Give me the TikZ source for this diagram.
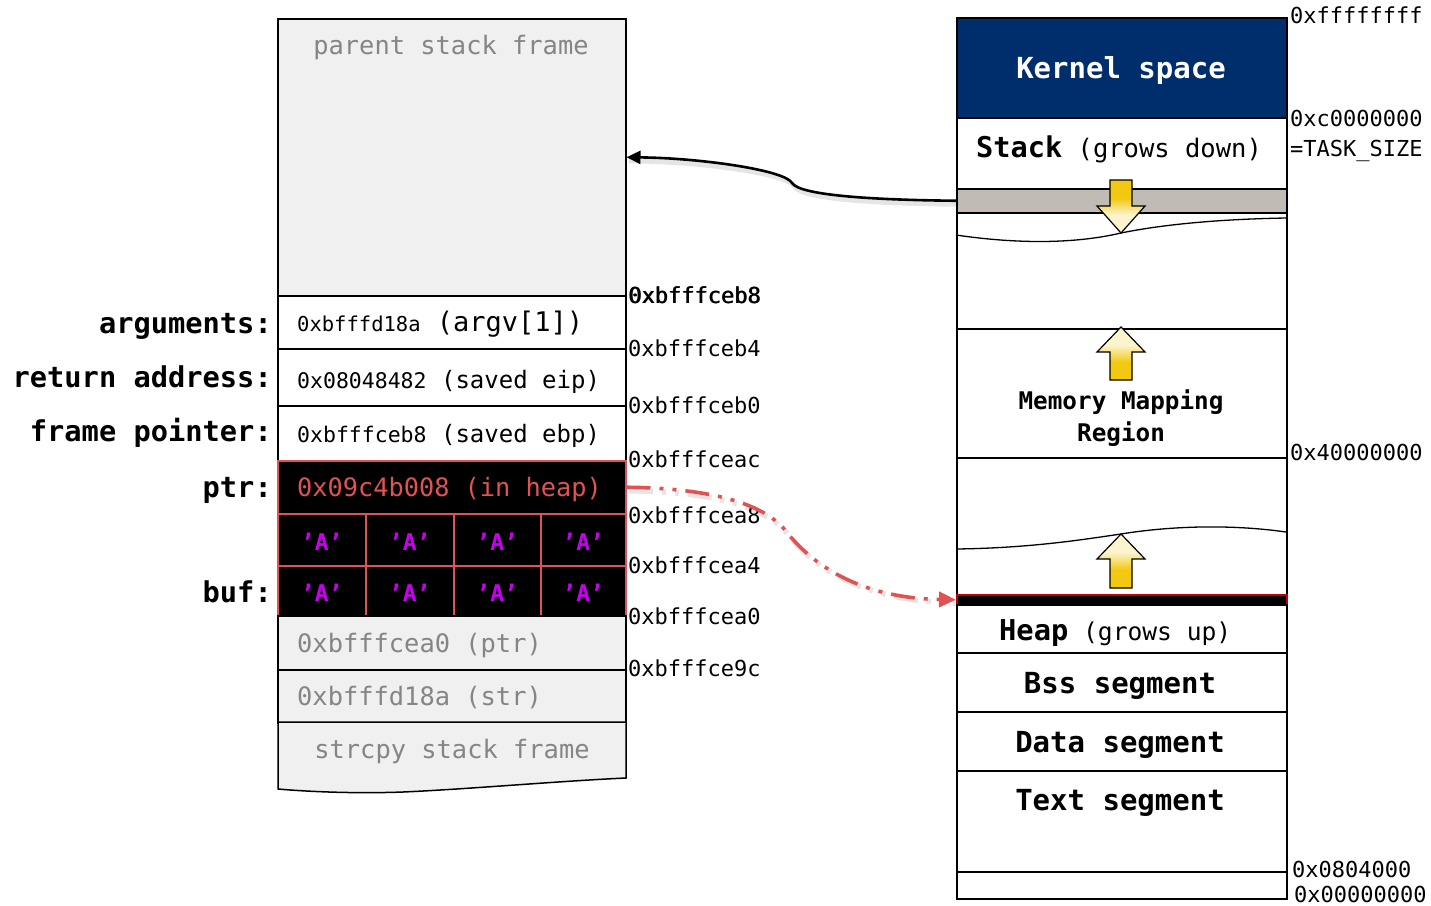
\documentclass[tikz,border=0pt]{standalone}
\usepackage{fontspec}
\setmonofont{DejaVu Sans Mono}
\usetikzlibrary{arrows.meta}
\definecolor{kernelblue}{HTML}{002D6B}
\definecolor{cellgray}{HTML}{F0F0F0}
\definecolor{graytxt}{HTML}{858585}
\definecolor{bandgray}{HTML}{C0BCB5}
\definecolor{ptrred}{HTML}{DF5353}
\definecolor{heapred}{HTML}{C00000}
\definecolor{amagenta}{HTML}{C800F0}
\definecolor{arrowyellow}{HTML}{F2C811}
\newcommand\fsz[1]{\fontsize{#1}{#1}\selectfont}
% yellow fill that fades out only near the arrow tip
\pgfdeclareverticalshading{tipdown}{100bp}{color(0bp)=(arrowyellow!20!white); color(42bp)=(arrowyellow!20!white); color(58bp)=(arrowyellow); color(100bp)=(arrowyellow)}
\pgfdeclareverticalshading{tipup}{100bp}{color(0bp)=(arrowyellow); color(42bp)=(arrowyellow); color(58bp)=(arrowyellow!20!white); color(100bp)=(arrowyellow!20!white)}
\begin{document}
\begin{tikzpicture}[x=1pt,y=-1pt,
  box/.style={draw=black, line width=1.5pt, inner sep=0pt, anchor=north west},
  sz/.style 2 args={minimum width=#1pt, minimum height=#2pt},
  lbl/.style={anchor=base east, inner sep=0pt, font=\ttfamily\bfseries\fsz{28.7}},
  addr/.style={anchor=base west, inner sep=0pt, font=\ttfamily\fsz{22}},
  celltxt/.style={anchor=base west, inner sep=0pt, font=\ttfamily},
  greytxt/.style={anchor=base, inner sep=0pt, text=graytxt, font=\ttfamily\fsz{25.4}},
  bufcell/.style={box, draw=ptrred, fill=black},
  atxt/.style={anchor=base, inner sep=0pt, text=amagenta, font=\ttfamily\bfseries\fsz{23}},
  segtxt/.style={anchor=base, inner sep=0pt, font=\ttfamily\bfseries\fsz{29}},
  uparrow/.style={draw=black, line width=1.2pt, shading=tipup},
  downarrow/.style={draw=black, line width=1.2pt, shading=tipdown},
  wave/.style={draw=black, line width=1.3pt}
]
\useasboundingbox (0,0) rectangle (1431,905);

% ---------------- stack frame of the current function ----------------
\node[box, sz={348}{277}, fill=cellgray] (parent) at (277,18) {};
\node[greytxt] (parentTxt) at (451,54) {parent stack frame};

\node[box, sz={348}{53}, fill=white] (args) at (277,295) {};
\node[box, sz={348}{57}, fill=white] (ret) at (277,348) {};
\node[box, sz={348}{55}, fill=white] (fp) at (277,405) {};
\node[box, sz={348}{53}, draw=ptrred, fill=black] (ptr) at (277,460) {};

% buf[8], two rows of four bytes
\node[bufcell, sz={88}{52}] (b11) at (277,513) {};
\node[bufcell, sz={88}{52}] (b12) at (365,513) {};
\node[bufcell, sz={87}{52}] (b13) at (453,513) {};
\node[bufcell, sz={85}{52}] (b14) at (540,513) {};
\node[bufcell, sz={88}{50}] (b21) at (277,565) {};
\node[bufcell, sz={88}{50}] (b22) at (365,565) {};
\node[bufcell, sz={87}{50}] (b23) at (453,565) {};
\node[bufcell, sz={85}{50}] (b24) at (540,565) {};

\node[box, sz={348}{54}, fill=cellgray] (ptrarg) at (277,615) {};
\node[box, sz={348}{53}, fill=cellgray] (strarg) at (277,669) {};

% callee frame with a torn lower edge
\draw[line width=1.5pt, fill=cellgray] (278,722) -- (626,722) -- (626,778)
  .. controls (560,781) and (470,789) .. (403,792)
  .. controls (350,794) and (300,791) .. (278,789) -- cycle;
\node[greytxt] (strcpyTxt) at (452,758) {strcpy stack frame};

% cell contents
\node[celltxt] (argsTxt) at (297,331) {{\fsz{20.5}0xbfffd18a}{\fsz{27}\ (argv[1])}};
\node[celltxt] (retTxt) at (297,388) {{\fsz{21.5}0x08048482}{\fsz{24}\ (saved eip)}};
\node[celltxt] (fpTxt) at (297,442) {{\fsz{21.5}0xbfffceb8}{\fsz{24}\ (saved ebp)}};
\node[celltxt, text=ptrred, font=\ttfamily\fsz{25.3}] (ptrTxt) at (297,496) {0x09c4b008 (in heap)};
\node[atxt] (a11) at (b11.center |- 0,550) {’A’};
\node[atxt] (a12) at (b12.center |- 0,550) {’A’};
\node[atxt] (a13) at (b13.center |- 0,550) {’A’};
\node[atxt] (a14) at (b14.center |- 0,550) {’A’};
\node[atxt] (a21) at (b21.center |- 0,601) {’A’};
\node[atxt] (a22) at (b22.center |- 0,601) {’A’};
\node[atxt] (a23) at (b23.center |- 0,601) {’A’};
\node[atxt] (a24) at (b24.center |- 0,601) {’A’};
\node[celltxt, text=graytxt, font=\ttfamily\fsz{25.4}] (ptrargTxt) at (297,652) {0xbfffcea0 (ptr)};
\node[celltxt, text=graytxt, font=\ttfamily\fsz{25.4}] (strargTxt) at (297,705) {0xbfffd18a (str)};

% row labels
\node[lbl] (argsLbl) at (272,333) {arguments:};
\node[lbl] (retLbl) at (272,387) {return address:};
\node[lbl] (fpLbl) at (272,441) {frame pointer:};
\node[lbl] (ptrLbl) at (272,497) {ptr:};
\node[lbl] (bufLbl) at (272,602) {buf:};

% stack addresses
\node[addr] (sa0) at (628,303) {0xbfffceb8};
\node[addr] (sa0b) at (628.8,303) {0xbfffceb8};
\node[addr] (sa1) at (628,356) {0xbfffceb4};
\node[addr] (sa2) at (628,413) {0xbfffceb0};
\node[addr] (sa3) at (628,467) {0xbfffceac};
\node[addr] (sa4) at (628,523) {0xbfffcea8};
\node[addr] (sa5) at (628,573) {0xbfffcea4};
\node[addr] (sa6) at (628,624) {0xbfffcea0};
\node[addr] (sa7) at (628,676) {0xbfffce9c};

% ---------------- process address space ----------------
\node[box, sz={330}{881}, fill=white] (space) at (956,17) {};
\node[box, sz={330}{100}, fill=kernelblue] (kernel) at (956,17) {};
\node[segtxt, text=white] (kernelTxt) at (1121,78) {Kernel space};
\node[box, sz={330}{71}, fill=white] (stack) at (956,117) {};
\node[celltxt] (stackTxt) at (976,157) {{\bfseries\fsz{28.6}Stack}{\fsz{25.5}\ (grows down)}};
\node[box, sz={330}{24}, fill=bandgray] (band) at (956,188) {};

\draw[wave] (956,235) .. controls (1010,243) and (1070,245) .. (1121,233)
  .. controls (1170,223) and (1230,219) .. (1286,218);

\node[box, sz={330}{129}] (mmap) at (956,328) {};
\node[anchor=base, inner sep=0pt, font=\ttfamily\bfseries\fsz{24.3}] (mmapTxt) at (1121,409) {Memory Mapping};
\node[anchor=base, inner sep=0pt, font=\ttfamily\bfseries\fsz{24.3}] (mmapTxt2) at (1121,441) {Region};

\draw[wave] (956,549) .. controls (1030,548) and (1080,540) .. (1121,534)
  .. controls (1170,526) and (1230,524) .. (1286,532);

\node[box, sz={330}{10}, draw=heapred, fill=black] (heapbar) at (956,594) {};
\node[box, sz={330}{48}] (heap) at (956,604) {};
\node[celltxt] (heapTxt) at (999,640) {{\bfseries\fsz{28.7}Heap}{\fsz{24.6}\ (grows up)}};
\node[box, sz={330}{59}] (bss) at (956,652) {};
\node[segtxt] (bssTxt) at (1120,693) {Bss segment};
\node[box, sz={330}{59}] (data) at (956,711) {};
\node[segtxt] (dataTxt) at (1120,752) {Data segment};
\node[box, sz={330}{101}] (text) at (956,770) {};
\node[segtxt] (textTxt) at (1120,810) {Text segment};
\node[box, sz={330}{27}] (low) at (956,871) {};

% growth arrows
\draw[downarrow] (1110,180) -- (1132,180) -- (1132,206) -- (1145,206) -- (1121,233)
  -- (1097,206) -- (1110,206) -- cycle;
\draw[uparrow] (1110,380) -- (1132,380) -- (1132,352) -- (1145,352) -- (1121,327)
  -- (1097,352) -- (1110,352) -- cycle;
\draw[uparrow] (1110,588) -- (1132,588) -- (1132,559) -- (1145,559) -- (1121,534)
  -- (1097,559) -- (1110,559) -- cycle;

% address marks
\node[addr] (ma0) at (1290,23) {0xffffffff};
\node[addr] (ma1) at (1290,126) {0xc0000000};
\node[addr] (ma2) at (1290,156) {=TASK\_SIZE};
\node[addr] (ma3) at (1290,460) {0x40000000};
\node[addr] (ma4) at (1292,877) {0x0804000};
\node[addr] (ma5) at (1294,902) {0x00000000};

% ---------------- connectors ----------------
% soft shadows
\begin{scope}[transform canvas={shift={(2.5pt,-3.5pt)}}]
\draw[black, opacity=0.10, line width=5pt] (band.west) .. controls (880,200) and (800,196) .. (792,183)
  .. controls (785,170) and (700,158) .. (parent.east);
\draw[black, opacity=0.10, line width=5.5pt, dash pattern=on 24pt off 9pt on 4pt off 9pt on 4pt off 9pt]
  (ptr.east) .. controls (700,488) and (760,500) .. (785,530)
  .. controls (812,565) and (860,598) .. (heapbar.west);
\end{scope}

\draw[line width=2.6pt, -{Triangle[length=14pt,width=13pt]}]
  (band.west) .. controls (880,200) and (800,196) .. (792,183)
  .. controls (785,170) and (700,158) .. (parent.east);

\draw[ptrred, line width=3.6pt, dash pattern=on 24pt off 9pt on 4pt off 9pt on 4pt off 9pt,
  -{Triangle[length=17pt,width=15pt]}]
  (ptr.east) .. controls (700,488) and (760,500) .. (785,530)
  .. controls (812,565) and (860,598) .. (heapbar.west);
\end{tikzpicture}
\end{document}
